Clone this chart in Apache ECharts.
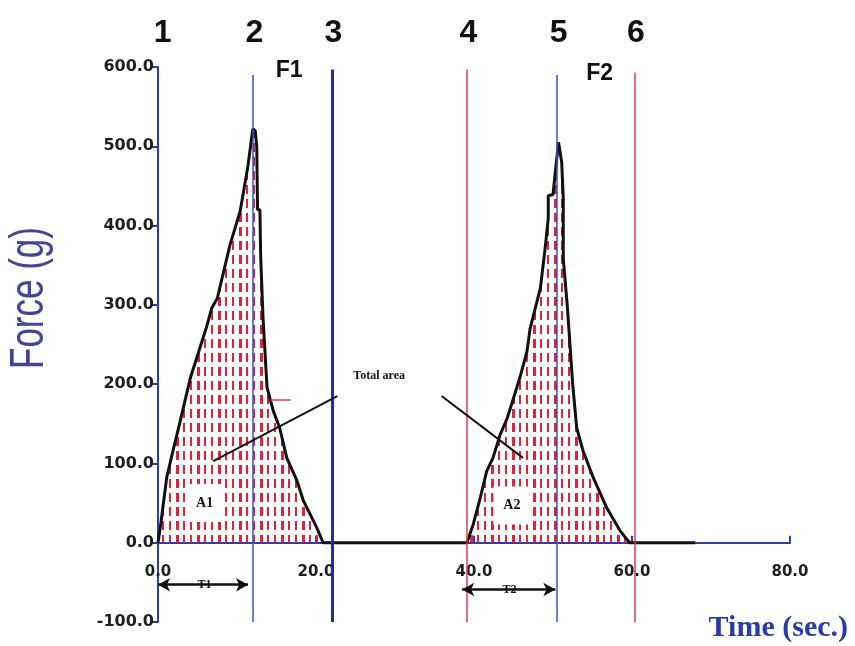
<!DOCTYPE html>
<html>
<head>
<meta charset="utf-8">
<script src="https://cdn.jsdelivr.net/npm/echarts@6/dist/echarts.min.js"></script>
<style>
  html, body { margin: 0; padding: 0; background: #ffffff; }
  #chart { width: 855px; height: 646px; }
</style>
</head>
<body>
<div id="chart"></div>
<script>
// Texture profile: two compression cycles, force (g) against time (s)
const time = [0.0, 0.3, 1.1, 1.9, 2.8, 4.1, 4.9, 6.2, 6.8, 7.5, 9.1, 10.4, 11.4, 12.0, 12.3, 12.5,
  12.6, 12.9, 13.0, 13.3, 13.8, 14.6, 15.4, 16.3, 17.6, 18.4, 20.1, 20.9, 30.0,
  39.1, 39.9, 40.8, 41.6, 42.4, 43.3, 44.2, 44.9, 45.8, 46.7, 47.1, 48.4, 49.0, 49.4, 49.4,
  50.0, 50.3, 50.7, 51.1, 51.3, 51.3, 51.8, 52.5, 53.0, 53.8, 55.1, 56.8, 58.5, 59.7, 68.0];
const force = [0, 20, 82, 116, 153, 208, 233, 274, 296, 308, 375, 418, 476, 522, 520, 500,
  420, 420, 360, 283, 196, 166, 145, 107, 78, 53, 19, 0, 0,
  0, 23, 57, 90, 107, 136, 157, 179, 208, 241, 270, 321, 371, 409, 438,
  439, 468, 505, 480, 434, 358, 300, 199, 145, 116, 82, 44, 15, 0, 0];

// Cycle markers 1..6 (time in s, top end in g)
const markerNames = ['1', '2', '3', '4', '5', '6'];
const markerTimes = [0.0, 12.0, 22.0, 39.1, 50.5, 60.3];
const markerTops = [600, 590, 597, 597, 590, 593];

const xMin = 0, xMax = 80, xTickStep = 20;
const yMin = -100, yMax = 600, yTickStep = 100;

// Red dashed hatch used to fill the areas under the peaks
const hatch = document.createElement('canvas');
hatch.width = 21; hatch.height = 14;
const hctx = hatch.getContext('2d');
hctx.fillStyle = '#e2223a';
hctx.fillRect(1, 3, 2, 9);
hctx.fillRect(8, 3, 3, 9);
hctx.fillRect(15, 3, 2, 9);

const chart = echarts.init(document.getElementById('chart'), null, { renderer: 'canvas' });

const axisBlue = '#2b3db2';
const gridTop = 67, gridBottom = 24;
const plotHeight = 646 - gridTop - gridBottom;
// lift the time axis up to the zero-force line
const zeroOffset = -plotHeight * (0 - yMin) / (yMax - yMin);

function vline(i, color, width) {
  return [
    { coord: [markerTimes[i], -100], symbol: 'none', lineStyle: { color: color, width: width, type: 'solid' } },
    { coord: [markerTimes[i], markerTops[i]], symbol: 'none' }
  ];
}

const option = {
  animation: false,
  backgroundColor: '#ffffff',
  grid: { left: 158, right: 65, top: gridTop, bottom: gridBottom },
  xAxis: {
    type: 'value', min: xMin, max: xMax, interval: xTickStep,
    position: 'bottom', offset: zeroOffset,
    axisLine: { onZero: false, lineStyle: { color: axisBlue, width: 2 } },
    axisTick: { show: true, inside: true, length: 7, lineStyle: { color: axisBlue, width: 2 } },
    splitLine: { show: false },
    axisLabel: {
      margin: 22, color: '#1e1e1e', fontFamily: 'DejaVu Sans', fontWeight: 'bold', fontSize: 15,
      formatter: v => v.toFixed(1)
    }
  },
  yAxis: {
    type: 'value', min: yMin, max: yMax, interval: yTickStep,
    axisLine: { show: true, onZero: false, lineStyle: { color: axisBlue, width: 2 } },
    axisTick: { show: true, length: 6, lineStyle: { color: axisBlue, width: 2 } },
    splitLine: { show: false },
    axisLabel: {
      margin: 4, color: '#1e1e1e', fontFamily: 'DejaVu Sans', fontWeight: 'bold', fontSize: 16,
      formatter: v => v.toFixed(1)
    }
  },
  series: [
    {
      name: 'force', type: 'line', symbol: 'none', z: 3,
      data: time.map((t, i) => [t, force[i]]),
      lineStyle: { color: '#111111', width: 3 },
      areaStyle: { color: { image: hatch, repeat: 'repeat' }, opacity: 1 }
    },
    {
      name: 'markers', type: 'line', data: [], z: 4,
      markLine: {
        silent: true, animation: false, symbol: 'none', label: { show: false },
        data: [
          vline(1, '#3553c8', 1.5),
          vline(2, '#1f2fa0', 3),
          vline(3, '#e8365a', 1.5),
          vline(4, '#3553c8', 1.5),
          vline(5, '#e8365a', 1.5)
        ]
      }
    },
    {
      name: 'leaders', type: 'line', data: [], z: 5,
      markLine: {
        silent: true, animation: false, symbol: 'none', label: { show: false },
        lineStyle: { color: '#111111', width: 2, type: 'solid' },
        data: [
          [{ coord: [22.7, 185] }, { coord: [7.0, 103] }],
          [{ coord: [35.9, 185] }, { coord: [46.2, 107] }],
          [{ coord: [14.2, 180], lineStyle: { color: '#e8365a', width: 1.5 } }, { coord: [16.8, 180] }]
        ]
      }
    },
    {
      name: 'spans', type: 'line', data: [], z: 5,
      markLine: {
        silent: true, animation: false, symbol: ['arrow', 'arrow'], symbolSize: [10, 12],
        label: { show: false },
        lineStyle: { color: '#111111', width: 2.5, type: 'solid' },
        data: [
          [{ coord: [0.0, -53] }, { coord: [11.4, -53] }],
          [{ coord: [38.5, -59] }, { coord: [50.3, -59] }]
        ]
      }
    }
  ]
};

chart.setOption(option);

// Text annotations placed through the chart's own scales
const px = (t, f) => chart.convertToPixel({ gridIndex: 0 }, [t, f]);
const graphics = [];

markerNames.forEach((name, i) => {
  const p = px(markerTimes[i] + (i === 0 ? 0.6 : 0.2), 0);
  graphics.push({
    type: 'text', x: p[0], y: 33, z: 10,
    style: { text: name, fill: '#111111', font: 'bold 32px "Liberation Sans"', align: 'center', verticalAlign: 'middle' }
  });
});

function label(text, t, f, font, bg) {
  const p = px(t, f);
  graphics.push({
    type: 'text', x: p[0], y: p[1], z: 10,
    style: {
      text: text, fill: '#111111', font: font, align: 'center', verticalAlign: 'middle',
      backgroundColor: bg || null, padding: bg ? [12, 10] : 0
    }
  });
}

label('F1', 16.6, 596, 'bold 23px "Liberation Sans"');
label('F2', 55.9, 592, 'bold 23px "Liberation Sans"');
label('A1', 5.9, 50, 'bold 14px "Liberation Serif"', '#ffffff');
label('A2', 44.8, 47, 'bold 14px "Liberation Serif"', '#ffffff');
label('T1', 5.9, -53, 'bold 12px "Liberation Serif"');
label('T2', 44.5, -59, 'bold 12px "Liberation Serif"');
label('Total area', 28.0, 211, 'bold 12px "Liberation Serif"');

graphics.push({
  type: 'text', x: 30, y: 298, rotation: Math.PI / 2, scaleY: 1.35, z: 10,
  style: { text: 'Force (g)', fill: '#44449a', font: '35px "Liberation Sans"', align: 'center', verticalAlign: 'middle' }
});
graphics.push({
  type: 'text', x: 848, y: 628, z: 10,
  style: { text: 'Time (sec.)', fill: '#2a3aa8', font: 'bold 30px "Liberation Serif"', align: 'right', verticalAlign: 'middle' }
});

chart.setOption({ graphic: graphics });
</script>
</body>
</html>
